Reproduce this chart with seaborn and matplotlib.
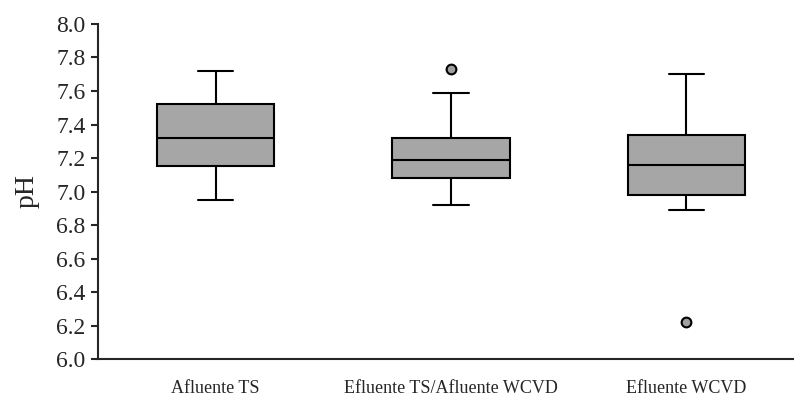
import pandas as pd
import numpy as np
import matplotlib
matplotlib.use('Agg')
import matplotlib.pyplot as plt
import seaborn as sns

# pH boxplots per sampling point
groups = ['Afluente TS', 'Efluente TS/Afluente WCVD', 'Efluente WCVD']

ph_afluente_ts = [6.95, 7.15, 7.32, 7.52, 7.72]
ph_efluente_ts = [6.92, 7.01, 7.08, 7.13, 7.19, 7.25, 7.32, 7.59, 7.73]
ph_efluente_wcvd = [6.22, 6.89, 6.98, 7.05, 7.16, 7.25, 7.34, 7.50, 7.70]

yticks = [6.0, 6.2, 6.4, 6.6, 6.8, 7.0, 7.2, 7.4, 7.6, 7.8, 8.0]

df = pd.DataFrame({
    'grupo': [groups[0]] * len(ph_afluente_ts)
             + [groups[1]] * len(ph_efluente_ts)
             + [groups[2]] * len(ph_efluente_wcvd),
    'pH': ph_afluente_ts + ph_efluente_ts + ph_efluente_wcvd,
})

sns.set_style('ticks')
plt.rcParams['font.family'] = ['Liberation Serif', 'DejaVu Serif']

fig = plt.figure(figsize=(7.94, 3.96), dpi=100)
ax = fig.add_axes([0.1234, 0.0934, 0.8756, 0.846])

sns.boxplot(data=df, x='grupo', y='pH', order=groups, ax=ax,
            width=0.5, color='#a6a6a6', linecolor='black', linewidth=1.5,
            saturation=1, capwidths=0.15,
            flierprops=dict(marker='o', markersize=7, markerfacecolor='#a0a0a0',
                            markeredgecolor='black', markeredgewidth=1.5))

ax.set_xlim(-0.5, 2.454)
ax.set_ylim(6.0, 8.0)
ax.set_yticks(yticks)
ax.set_yticklabels([f'{v:.1f}' for v in yticks], fontsize=17)
ax.tick_params(axis='y', length=5, width=1.5, pad=4)
ax.tick_params(axis='x', length=0, pad=15, labelsize=13)
ax.set_xlabel('')
ax.set_ylabel('pH', fontsize=20, labelpad=12)

sns.despine(ax=ax)
for s in ['left', 'bottom']:
    ax.spines[s].set_linewidth(1.5)

fig.savefig('out.png', dpi=100)
